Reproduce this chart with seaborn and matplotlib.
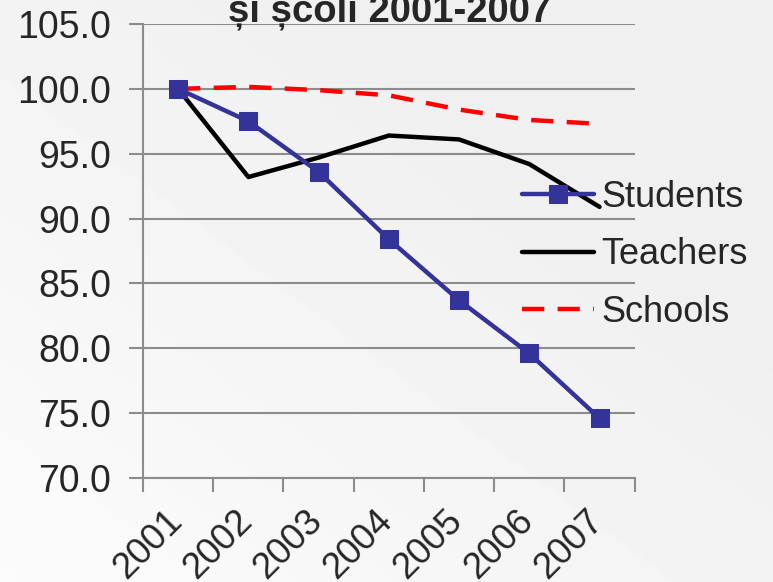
import numpy as np
import pandas as pd
import matplotlib
matplotlib.use("Agg")
import matplotlib.pyplot as plt
import matplotlib.transforms as mtransforms
import seaborn as sns

# valori (index 2001 = 100)
years = ["2001", "2002", "2003", "2004", "2005", "2006", "2007"]
students = [100.0, 97.5, 93.6, 88.4, 83.7, 79.6, 74.6]
teachers = [100.0, 93.2, 94.7, 96.4, 96.1, 94.2, 90.9]
schools = [100.0, 100.15, 99.9, 99.5, 98.4, 97.6, 97.3]

sns.set_theme(style="white")
plt.rcParams["font.family"] = ["Liberation Sans", "DejaVu Sans"]

bg = "#f1f1f1"
grid_col = "#8c8c8c"

fig = plt.figure(figsize=(7.73, 5.82), dpi=100, facecolor=bg)

# fundal cu gradient discret (mai deschis jos-stanga)
bg_ax = fig.add_axes([0, 0, 1, 1], zorder=-1)
gx, gy = np.meshgrid(np.linspace(0, 1, 200), np.linspace(0, 1, 150))
grad = 0.985 - 0.045 * np.clip((gx + (1 - gy)) / 1.4, 0, 1)
bg_ax.imshow(grad, cmap="gray", vmin=0, vmax=1, aspect="auto",
             extent=[0, 1, 0, 1], origin="upper")
bg_ax.axis("off")

ax = fig.add_axes([0.185, 0.1787, 0.636, 0.7801])
ax.set_facecolor("none")

x = np.arange(len(years))
sns.lineplot(x=x, y=students, ax=ax, color="#333399", lw=3.2, marker="s",
             markersize=13, markeredgecolor="#333399", label="Students", zorder=4)
sns.lineplot(x=x, y=teachers, ax=ax, color="black", lw=3.2, label="Teachers", zorder=3)
sns.lineplot(x=x, y=schools, ax=ax, color="#ff0000", lw=3.2, dashes=False,
             label="Schools", zorder=2)
ax.lines[-1].set_dashes([5, 3])

ax.set_xlim(-0.5, len(years) - 0.5)
ax.set_ylim(70, 105)
ax.set_yticks(np.arange(70, 105.1, 5))
ax.set_yticklabels([f"{v:.1f}" for v in np.arange(70, 105.1, 5)])

# tick-uri pe limitele categoriilor, etichete in centru
ax.set_xticks(np.arange(-0.5, len(years), 1))
ax.set_xticklabels([])
ax.set_xticks(x, minor=True)
ax.set_xticklabels(years, minor=True, rotation=45, ha="right",
                   rotation_mode="anchor")
ax.tick_params(axis="x", which="minor", length=0, pad=18, labelsize=26.5)
ax.tick_params(axis="x", which="major", length=10, width=1.5, color=grid_col,
               direction="out", bottom=True)
ax.tick_params(axis="y", length=10, width=1.5, color=grid_col, direction="out",
               left=True, labelsize=27, pad=13)

# mic decalaj spre stanga pentru etichetele rotite
shift = mtransforms.ScaledTranslation(-14 / 100, 0, fig.dpi_scale_trans)
for lab in ax.get_xticklabels(minor=True):
    lab.set_transform(lab.get_transform() + shift)

ax.yaxis.grid(True, color=grid_col, lw=1.5)
ax.xaxis.grid(False)
ax.set_axisbelow(True)
for s in ["top", "right"]:
    ax.spines[s].set_visible(False)
for s in ["left", "bottom"]:
    ax.spines[s].set_color(grid_col)
    ax.spines[s].set_linewidth(1.5)
ax.set_xlabel("")
ax.set_ylabel("")

ax.legend(loc="center left", bbox_to_anchor=(0.675, 0.562),
          bbox_transform=fig.transFigure, frameon=False, fontsize=26,
          handlelength=2.0, handletextpad=0.2, labelspacing=0.62,
          borderpad=0, borderaxespad=0)

fig.text(0.5045, 1 - 21 / 582, "și școli 2001-2007", ha="center",
         va="baseline", fontsize=27.5, fontweight="bold")

fig.savefig("out.png", dpi=100, facecolor=bg)
